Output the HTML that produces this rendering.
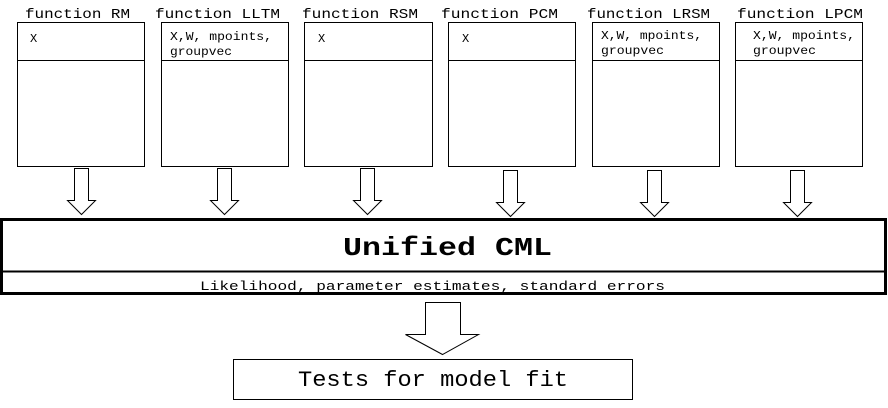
<!DOCTYPE html>
<html><head><style>
body{margin:0;background:#fff;}
svg text{font-family:"Liberation Mono",monospace;fill:#000;}
</style></head><body>
<svg width="888" height="403" viewBox="0 0 888 403" xmlns="http://www.w3.org/2000/svg">
<g fill="#fff" stroke="#000" stroke-width="1">
<rect x="17.5" y="22.5" width="127" height="144"/><line x1="17" y1="60.5" x2="145" y2="60.5"/>
<rect x="161.5" y="22.5" width="127" height="144"/><line x1="161" y1="60.5" x2="288" y2="60.5"/>
<rect x="304.5" y="22.5" width="128" height="144"/><line x1="304" y1="60.5" x2="432" y2="60.5"/>
<rect x="448.5" y="22.5" width="127" height="144"/><line x1="448" y1="60.5" x2="576" y2="60.5"/>
<rect x="592.5" y="22.5" width="127" height="144"/><line x1="592" y1="60.5" x2="720" y2="60.5"/>
<rect x="735.5" y="22.5" width="127" height="144"/><line x1="735" y1="60.5" x2="863" y2="60.5"/>
</g>
<g font-size="14">
<text x="25" y="18" textLength="105" lengthAdjust="spacingAndGlyphs">function RM</text>
<text x="155" y="18" textLength="125" lengthAdjust="spacingAndGlyphs">function LLTM</text>
<text x="302" y="18" textLength="116" lengthAdjust="spacingAndGlyphs">function RSM</text>
<text x="441" y="18" textLength="117" lengthAdjust="spacingAndGlyphs">function PCM</text>
<text x="587" y="18" textLength="123" lengthAdjust="spacingAndGlyphs">function LRSM</text>
<text x="737" y="18" textLength="126" lengthAdjust="spacingAndGlyphs">function LPCM</text>
</g>
<g font-size="12">
<text x="30" y="42">X</text>
<text x="170" y="40" textLength="102" lengthAdjust="spacingAndGlyphs">X,W, mpoints,</text><text x="170" y="55" textLength="62" lengthAdjust="spacingAndGlyphs">groupvec</text>
<text x="318" y="42">X</text>
<text x="462" y="42">X</text>
<text x="601" y="39" textLength="101" lengthAdjust="spacingAndGlyphs">X,W, mpoints,</text><text x="601" y="54" textLength="63" lengthAdjust="spacingAndGlyphs">groupvec</text>
<text x="753" y="39" textLength="102" lengthAdjust="spacingAndGlyphs">X,W, mpoints,</text><text x="753" y="54" textLength="63" lengthAdjust="spacingAndGlyphs">groupvec</text>
</g>
<g fill="#fff" stroke="#000" stroke-width="1">
<path d="M74.5 168.5h14v32h7l-14 14l-14-14h7z"/>
<path d="M217.5 168.5h14v32h7l-14 14l-14-14h7z"/>
<path d="M360.5 168.5h14v32h7l-14 14l-14-14h7z"/>
<path d="M503.5 170.5h14v32h7l-14 14l-14-14h7z"/>
<path d="M647.5 170.5h14v32h7l-14 14l-14-14h7z"/>
<path d="M790.5 170.5h14v32h7l-14 14l-14-14h7z"/>
</g>
<rect x="1.5" y="219.5" width="884" height="74" fill="#fff" stroke="#000" stroke-width="3"/>
<line x1="0" y1="271.5" x2="887" y2="271.5" stroke="#000" stroke-width="2"/>
<text x="343" y="255" font-size="26" font-weight="bold" textLength="209" lengthAdjust="spacingAndGlyphs">Unified CML</text>
<text x="200" y="290" font-size="13" textLength="465" lengthAdjust="spacingAndGlyphs">Likelihood, parameter estimates, standard errors</text>
<path d="M425.5 302.5h35v32h18l-36 20l-37-20h20z" fill="#fff" stroke="#000" stroke-width="1"/>
<rect x="233.5" y="359.5" width="399" height="40" fill="#fff" stroke="#000" stroke-width="1"/>
<text x="298" y="386" font-size="22" textLength="270" lengthAdjust="spacingAndGlyphs">Tests for model fit</text>
</svg>
</body></html>
